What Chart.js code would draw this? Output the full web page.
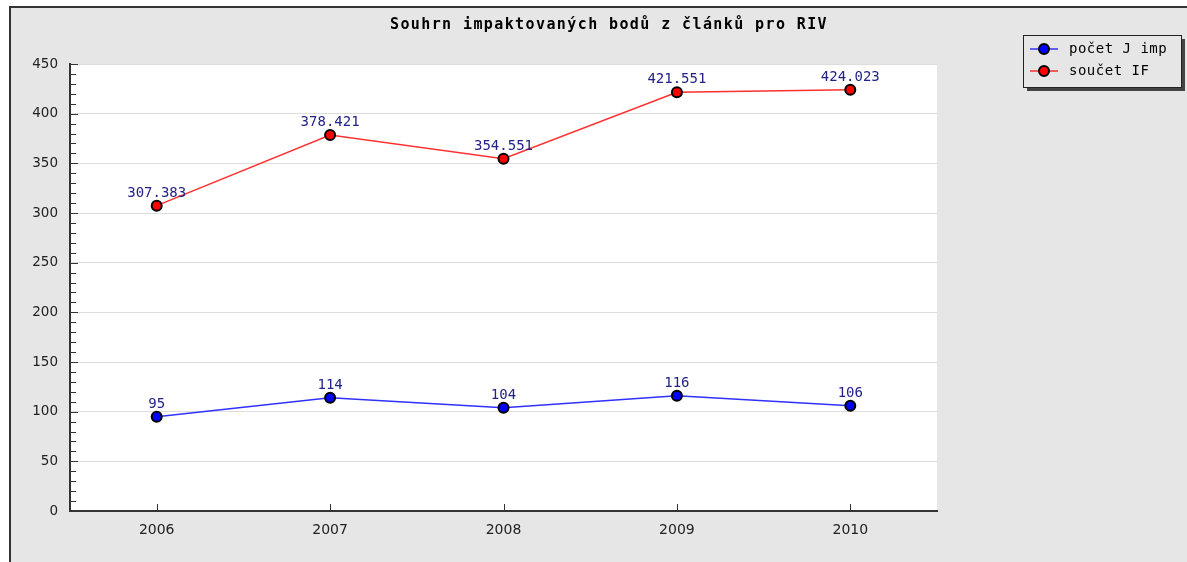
<!DOCTYPE html>
<html>
<head>
<meta charset="utf-8">
<script src="https://cdn.jsdelivr.net/npm/chart.js@4"></script>
<style>
  body { margin: 0; background: #fff; }
</style>
</head>
<body>
<canvas id="chart" width="1187" height="562"></canvas>
<script>
const years = ["2006", "2007", "2008", "2009", "2010"];
const pocetJImp = [95, 114, 104, 116, 106];
const soucetIF = [307.383, 378.421, 354.551, 421.551, 424.023];
const pocetLabels = ["95", "114", "104", "116", "106"];
const soucetLabels = ["307.383", "378.421", "354.551", "421.551", "424.023"];
const titleText = "Souhrn impaktovaných bodů z článků pro RIV";

const mono = "'DejaVu Sans Mono', monospace";

// frame, title, ticks, value labels and legend
const decor = {
  id: "decor",
  beforeDraw(chart) {
    const ctx = chart.ctx, a = chart.chartArea;
    ctx.save();
    ctx.fillStyle = "#fff";
    ctx.fillRect(0, 0, chart.width, chart.height);
    ctx.fillStyle = "#e6e6e6";
    ctx.fillRect(10, 7, chart.width - 10, chart.height - 7);
    ctx.strokeStyle = "#333";
    ctx.lineWidth = 2;
    ctx.beginPath();
    ctx.moveTo(10, chart.height);
    ctx.lineTo(10, 7);
    ctx.lineTo(chart.width, 7);
    ctx.stroke();
    ctx.fillStyle = "#fff";
    ctx.fillRect(a.left, a.top, a.right - a.left, a.bottom - a.top);
    ctx.fillStyle = "#000";
    ctx.font = "bold 15px " + mono;
    ctx.letterSpacing = "1.4px";
    ctx.textAlign = "center";
    ctx.textBaseline = "middle";
    ctx.fillText(titleText, 609, 25);
    ctx.restore();
  },
  afterDraw(chart) {
    const ctx = chart.ctx, a = chart.chartArea;
    const ys = chart.scales.y, xs = chart.scales.x;
    ctx.save();
    ctx.strokeStyle = "#333";
    ctx.lineWidth = 1;
    ctx.beginPath();
    for (let v = 0; v <= 450; v += 10) {
      const py = Math.round(ys.getPixelForValue(v)) + 0.5;
      const len = v % 50 === 0 ? 8 : 6;
      ctx.moveTo(a.left, py);
      ctx.lineTo(a.left + len, py);
    }
    years.forEach((y, i) => {
      const px = Math.round(xs.getPixelForValue(i)) + 0.5;
      ctx.moveTo(px, a.bottom - 1);
      ctx.lineTo(px, a.bottom - 7);
    });
    ctx.stroke();

    // value labels
    ctx.fillStyle = "#222288";
    ctx.font = "14px " + mono;
    ctx.textAlign = "center";
    ctx.textBaseline = "alphabetic";
    const labelSets = [pocetLabels, soucetLabels];
    chart.data.datasets.forEach((ds, di) => {
      chart.getDatasetMeta(di).data.forEach((pt, i) => {
        ctx.fillText(labelSets[di][i], pt.x, pt.y - 9);
      });
    });

    // legend
    const lx = 1023, ly = 35, lw = 158, lh = 52;
    ctx.fillStyle = "#444";
    ctx.fillRect(lx + 4, ly + 4, lw, lh);
    ctx.fillStyle = "#e6e6e6";
    ctx.fillRect(lx, ly, lw, lh);
    ctx.strokeStyle = "#222";
    ctx.lineWidth = 1;
    ctx.strokeRect(lx + 0.5, ly + 0.5, lw, lh);
    ctx.font = "14px " + mono;
    ctx.letterSpacing = "0.5px";
    ctx.textAlign = "left";
    ctx.textBaseline = "middle";
    chart.data.datasets.forEach((ds, di) => {
      const ry = ly + 14 + di * 22;
      ctx.strokeStyle = ds.borderColor;
      ctx.lineWidth = 1.5;
      ctx.beginPath();
      ctx.moveTo(lx + 7, ry);
      ctx.lineTo(lx + 35, ry);
      ctx.stroke();
      ctx.beginPath();
      ctx.arc(lx + 21, ry, 5, 0, Math.PI * 2);
      ctx.fillStyle = ds.pointBackgroundColor;
      ctx.fill();
      ctx.strokeStyle = "#000";
      ctx.lineWidth = 2;
      ctx.stroke();
      ctx.fillStyle = "#000";
      ctx.fillText(ds.label, lx + 46, ry);
    });
    ctx.restore();
  }
};

new Chart(document.getElementById("chart"), {
  type: "line",
  data: {
    labels: years,
    datasets: [{
      label: "počet J imp",
      data: pocetJImp,
      borderColor: "#3030ff",
      borderWidth: 1.5,
      pointBackgroundColor: "#0000ff",
      pointBorderColor: "#000",
      pointBorderWidth: 2,
      pointRadius: 5,
      tension: 0
    }, {
      label: "součet IF",
      data: soucetIF,
      borderColor: "#ff3030",
      borderWidth: 1.5,
      pointBackgroundColor: "#ff0000",
      pointBorderColor: "#000",
      pointBorderWidth: 2,
      pointRadius: 5,
      tension: 0
    }]
  },
  options: {
    responsive: false,
    animation: false,
    layout: { padding: { top: 64, right: 250, left: 0, bottom: 0 } },
    plugins: {
      legend: { display: false },
      title: { display: false },
      tooltip: { enabled: false }
    },
    scales: {
      x: {
        offset: true,
        grid: { display: false, drawTicks: false },
        border: { display: true, color: "#333", width: 2 },
        ticks: { color: "#222", padding: 11, font: { family: "'DejaVu Sans'", size: 14 } },
        afterFit(s) { s.height = 51; }
      },
      y: {
        min: 0,
        max: 450,
        ticks: { stepSize: 50, color: "#222", padding: 12, font: { family: "'DejaVu Sans'", size: 13.5 } },
        grid: { color: "#dddddd", drawTicks: false },
        border: { display: true, color: "#333", width: 2 },
        afterFit(s) { s.width = 70; }
      }
    }
  },
  plugins: [decor]
});
</script>
</body>
</html>
